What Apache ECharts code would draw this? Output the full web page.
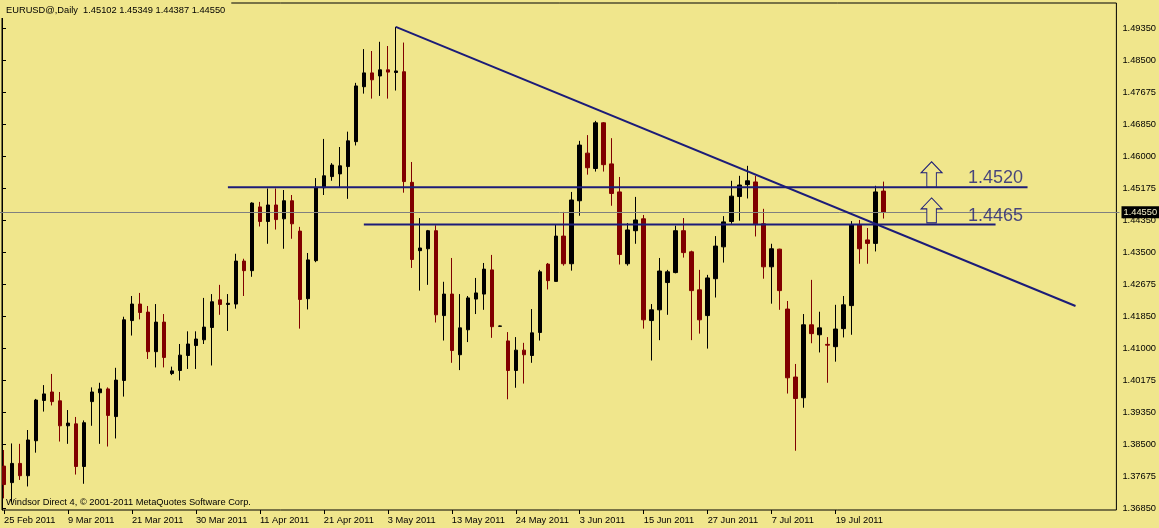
<!DOCTYPE html>
<html>
<head>
<meta charset="utf-8">
<script src="https://cdn.jsdelivr.net/npm/echarts@6/dist/echarts.min.js"></script>
<style>
html,body{margin:0;padding:0;background:#F0E68C;}
#c{width:1159px;height:528px;}
</style>
</head>
<body>
<div id="c"></div>
<script>
// ---------------- data ----------------
const symbolName = 'EURUSD@,Daily';
const headerOHLC = ['1.45102', '1.45349', '1.44387', '1.44550'];
const footerText = 'Windsor Direct 4, \u00A9 2001-2011 MetaQuotes Software Corp.';

const dates = [
  '25 Feb 2011','28 Feb 2011','1 Mar 2011','2 Mar 2011','3 Mar 2011','4 Mar 2011','7 Mar 2011','8 Mar 2011',
  '9 Mar 2011','10 Mar 2011','11 Mar 2011','14 Mar 2011','15 Mar 2011','16 Mar 2011','17 Mar 2011','18 Mar 2011',
  '21 Mar 2011','22 Mar 2011','23 Mar 2011','24 Mar 2011','25 Mar 2011','27 Mar 2011','28 Mar 2011','29 Mar 2011',
  '30 Mar 2011','31 Mar 2011','1 Apr 2011','4 Apr 2011','5 Apr 2011','6 Apr 2011','7 Apr 2011','8 Apr 2011',
  '11 Apr 2011','12 Apr 2011','13 Apr 2011','14 Apr 2011','15 Apr 2011','18 Apr 2011','19 Apr 2011','20 Apr 2011',
  '21 Apr 2011','22 Apr 2011','25 Apr 2011','26 Apr 2011','27 Apr 2011','28 Apr 2011','29 Apr 2011','2 May 2011',
  '3 May 2011','4 May 2011','5 May 2011','6 May 2011','9 May 2011','10 May 2011','11 May 2011','12 May 2011',
  '13 May 2011','16 May 2011','17 May 2011','18 May 2011','19 May 2011','20 May 2011','22 May 2011','23 May 2011',
  '24 May 2011','25 May 2011','26 May 2011','27 May 2011','30 May 2011','31 May 2011','1 Jun 2011','2 Jun 2011',
  '3 Jun 2011','6 Jun 2011','7 Jun 2011','8 Jun 2011','9 Jun 2011','10 Jun 2011','13 Jun 2011','14 Jun 2011',
  '15 Jun 2011','16 Jun 2011','17 Jun 2011','20 Jun 2011','21 Jun 2011','22 Jun 2011','23 Jun 2011','24 Jun 2011',
  '27 Jun 2011','28 Jun 2011','29 Jun 2011','30 Jun 2011','1 Jul 2011','4 Jul 2011','5 Jul 2011','6 Jul 2011',
  '7 Jul 2011','8 Jul 2011','11 Jul 2011','12 Jul 2011','13 Jul 2011','14 Jul 2011','15 Jul 2011','18 Jul 2011',
  '19 Jul 2011','20 Jul 2011','21 Jul 2011','22 Jul 2011','25 Jul 2011','26 Jul 2011','27 Jul 2011'
];
const emptySlots = 29; // free bars to the right of the last candle

const opens = [
  1.3794,1.3751,1.3801,1.3769,1.3860,1.3965,1.3987,1.3964,1.3899,1.3904,1.3793,1.3962,1.3985,1.3995,1.3923,1.4017,
  1.4173,1.4216,1.4195,1.4092,1.4169,1.4035,1.4043,1.4082,1.4108,1.4123,1.4155,1.4227,1.4215,1.4216,1.4328,1.4303,
  1.4469,1.4431,1.4474,1.4438,1.4485,1.4406,1.4230,1.4329,1.4519,1.4548,1.4555,1.4574,1.4639,1.4782,1.4818,1.4810,
  1.4826,1.4819,1.4821,1.4533,1.4355,1.4360,1.4407,1.4186,1.4242,1.4084,1.4149,1.4229,1.4242,1.4305,1.4158,1.4120,
  1.4043,1.4096,1.4082,1.4142,1.4320,1.4275,1.4393,1.4321,1.4485,1.4609,1.4569,1.4688,1.4581,1.4508,1.4321,1.4407,
  1.4438,1.4173,1.4201,1.4272,1.4298,1.4407,1.4352,1.4253,1.4186,1.4282,1.4365,1.4431,1.4496,1.4527,1.4534,1.4425,
  1.4313,1.4359,1.4203,1.4026,1.3972,1.4162,1.4136,1.4111,1.4105,1.4152,1.4212,1.4422,1.4383,1.4374,1.45102
];
const closes = [
  1.3746,1.3801,1.3769,1.3862,1.3966,1.3982,1.3962,1.3899,1.3906,1.3793,1.3907,1.3987,1.3995,1.3926,1.4018,1.4175,
  1.4216,1.4194,1.4092,1.4169,1.4077,1.4042,1.4083,1.4112,1.4125,1.4156,1.4222,1.4215,1.4218,1.4328,1.4303,1.4479,
  1.4431,1.4474,1.4436,1.4485,1.4425,1.4228,1.4331,1.4520,1.4550,1.4578,1.4576,1.4641,1.4784,1.4818,1.4800,1.4826,
  1.4820,1.4823,1.4535,1.4332,1.4362,1.4407,1.4188,1.4242,1.4095,1.4154,1.4232,1.4245,1.4307,1.4157,1.4159,1.4043,
  1.4096,1.4084,1.4141,1.4300,1.4277,1.4393,1.4321,1.4487,1.4630,1.4571,1.4688,1.4579,1.4504,1.4345,1.4409,1.4435,
  1.4175,1.4201,1.4302,1.4300,1.4407,1.4350,1.4251,1.4175,1.4284,1.4367,1.4430,1.4497,1.4526,1.4537,1.4423,1.4313,
  1.4360,1.4251,1.4024,1.3970,1.4162,1.4139,1.4154,1.4109,1.4151,1.4214,1.4422,1.4360,1.4374,1.4508,1.44550
];
const lows = [
  1.3710,1.3700,1.3758,1.3741,1.3829,1.3936,1.3952,1.3858,1.3852,1.3772,1.3748,1.3899,1.3852,1.3845,1.3866,1.3975,
  1.4134,1.4176,1.4073,1.4051,1.4051,1.4031,1.4017,1.4047,1.4047,1.4112,1.4056,1.4188,1.4146,1.4204,1.4237,1.4287,
  1.4418,1.4373,1.4410,1.4360,1.4386,1.4152,1.4202,1.4325,1.4500,1.4537,1.4520,1.4490,1.4629,1.4764,1.4751,1.4758,
  1.4751,1.4772,1.4506,1.4310,1.4251,1.4266,1.4168,1.4121,1.4063,1.4044,1.4117,1.4190,1.4201,1.4128,1.4157,1.3968,
  1.3998,1.4009,1.4063,1.4121,1.4254,1.4275,1.4316,1.4303,1.4446,1.4553,1.4561,1.4561,1.4472,1.4319,1.4316,1.4373,
  1.4152,1.4069,1.4122,1.4188,1.4296,1.4337,1.4122,1.4139,1.4100,1.4233,1.4324,1.4425,1.4433,1.4491,1.4392,1.4282,
  1.4217,1.4201,1.3983,1.3834,1.3946,1.4114,1.4090,1.4011,1.4066,1.4129,1.4136,1.4321,1.4321,1.4353,1.44387
];
const highs = [
  1.3836,1.3853,1.3852,1.3888,1.3969,1.4005,1.4034,1.3987,1.3940,1.3922,1.3913,1.3999,1.4011,1.3999,1.4050,1.4183,
  1.4237,1.4245,1.4211,1.4216,1.4190,1.4053,1.4112,1.4145,1.4145,1.4232,1.4242,1.4266,1.4242,1.4347,1.4334,1.4481,
  1.4482,1.4517,1.4517,1.4513,1.4500,1.4417,1.4349,1.4544,1.4646,1.4583,1.4625,1.4665,1.4792,1.4880,1.4875,1.4899,
  1.4888,1.4938,1.4897,1.4586,1.4440,1.4409,1.4421,1.4274,1.4336,1.4242,1.4237,1.4284,1.4323,1.4344,1.4160,1.4143,
  1.4130,1.4115,1.4203,1.4305,1.4323,1.4422,1.4456,1.4508,1.4641,1.4656,1.4693,1.4690,1.4648,1.4547,1.4427,1.4495,
  1.4448,1.4216,1.4336,1.4305,1.4420,1.4440,1.4355,1.4305,1.4292,1.4393,1.4445,1.4537,1.4550,1.4576,1.4550,1.4464,
  1.4373,1.4360,1.4224,1.4060,1.4190,1.4279,1.4196,1.4130,1.4214,1.4237,1.4432,1.4435,1.4414,1.4524,1.45349
];

const yTickValues = [1.36850,1.37675,1.38500,1.39350,1.40175,1.41000,1.41850,1.42675,
                     1.43500,1.44350,1.45175,1.46000,1.46850,1.47675,1.48500,1.49350];
const Y_MIN = 1.36797, Y_MAX = 1.50000;
const lastPrice = 1.44550;

// drawn objects (bar index, price)
const trendLine = [[49, 1.4938], [134, 1.4211]];
const levelHigh = [[28, 1.4520], [128, 1.4520]];
const levelLow  = [[45, 1.4423], [124, 1.4423]];
const arrowPoints = [[116, 1.4554], [116, 1.4460]];
const levelTexts = ['1.4520', '1.4465'];
const levelTextPoints = [[124, 1.45451], [124, 1.44461]];

// ---------------- chart ----------------
const FONT = '"Liberation Sans", Arial, sans-serif';
const NAVY = '#1C1C78';
const BG = '#F0E68C';
const categories = dates.concat(new Array(emptySlots).fill(''));
const candleData = opens.map((o, i) => [o, closes[i], lows[i], highs[i]]);
const showTick = (idx, val) => val !== '' && idx % 8 === 0;
const smallText = { fontFamily: FONT, fontSize: 9.3, color: '#000' };

const chart = echarts.init(document.getElementById('c'), null, { renderer: 'canvas' });
chart.setOption({
  backgroundColor: BG,
  animation: false,
  title: [
    { text: symbolName + '  ' + headerOHLC.join(' '), left: 0, top: 0, padding: [6, 6, 3, 6],
      backgroundColor: BG, textStyle: Object.assign({ fontWeight: 'normal' }, smallText) },
    { text: footerText, left: 6, top: 498, padding: 0,
      textStyle: Object.assign({ fontWeight: 'normal' }, smallText) }
  ],
  grid: [
    { left: -0.5, top: 3, width: 1120, bottom: 18, show: false },
    { left: 2, top: 3, right: 38, bottom: 18, show: true, borderColor: '#000', borderWidth: 1,
      backgroundColor: 'transparent' }
  ],
  xAxis: [
    { type: 'category', gridIndex: 0, data: categories, boundaryGap: true,
      axisLine: { show: false },
      axisTick: { show: true, alignWithLabel: true, interval: showTick, length: 4, lineStyle: { color: '#000' } },
      axisLabel: Object.assign({ interval: showTick, align: 'left', margin: 6 }, smallText),
      splitLine: { show: false } },
    { type: 'value', gridIndex: 1, show: false, min: 0, max: 1 }
  ],
  yAxis: [
    { type: 'value', gridIndex: 0, min: Y_MIN, max: Y_MAX, show: false },
    { type: 'value', gridIndex: 1, position: 'right', min: Y_MIN, max: Y_MAX,
      axisLine: { show: true, lineStyle: { color: '#000' } },
      axisTick: { show: true, length: 4, customValues: yTickValues, lineStyle: { color: '#000' } },
      axisLabel: Object.assign({ customValues: yTickValues, formatter: v => v.toFixed(5), margin: 6 }, smallText),
      splitLine: { show: false } }
  ],
  series: [
    { type: 'candlestick', xAxisIndex: 0, yAxisIndex: 0, data: candleData, barWidth: 4, z: 3,
      itemStyle: { color: '#000000', color0: '#800000', borderColor: '#000000', borderColor0: '#800000', borderWidth: 1 } },
    { type: 'line', xAxisIndex: 0, yAxisIndex: 0, data: trendLine, symbol: 'none', z: 5,
      lineStyle: { color: NAVY, width: 2 } },
    { type: 'line', xAxisIndex: 0, yAxisIndex: 0, data: levelHigh, symbol: 'none', z: 5,
      lineStyle: { color: NAVY, width: 2 } },
    { type: 'line', xAxisIndex: 0, yAxisIndex: 0, data: levelLow, symbol: 'none', z: 5,
      lineStyle: { color: NAVY, width: 2 } },
    { type: 'line', xAxisIndex: 0, yAxisIndex: 0, data: [], symbol: 'none', z: 2,
      markLine: { silent: true, precision: 5, symbol: ['none', 'none'], data: [{ yAxis: lastPrice }],
        lineStyle: { color: '#808080', width: 1, type: 'solid' },
        label: { show: true, position: 'end', distance: 2, formatter: lastPrice.toFixed(5),
          backgroundColor: '#000', color: '#F4EFC8', fontFamily: FONT, fontSize: 9.3, padding: [2, 3, 1, 2] } } },
    { type: 'scatter', xAxisIndex: 0, yAxisIndex: 0, data: arrowPoints, z: 6,
      symbol: 'path://M11,0 L22,11 L16,11 L16,25 L6,25 L6,11 L0,11 Z', symbolSize: [21, 25],
      itemStyle: { color: BG, borderColor: NAVY, borderWidth: 1, opacity: 1 } },
    { type: 'scatter', xAxisIndex: 0, yAxisIndex: 0, z: 6, symbolSize: 0,
      data: levelTextPoints.map((p, i) => ({ value: p, name: levelTexts[i] })),
      label: { show: true, position: 'inside', formatter: p => p.name, fontFamily: FONT, fontSize: 18, color: NAVY } }
  ]
});
</script>
</body>
</html>
